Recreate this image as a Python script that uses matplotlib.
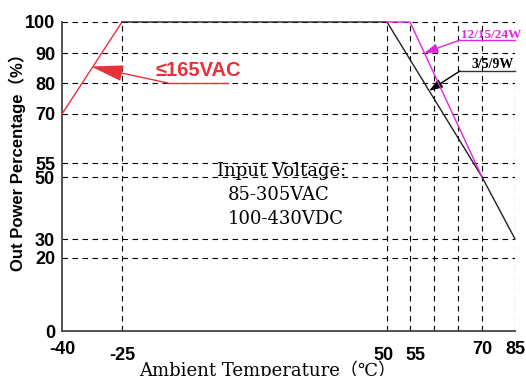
import numpy as np
import matplotlib
matplotlib.use('Agg')
import matplotlib.pyplot as plt
import matplotlib.transforms as mtransforms

# derating curves
red_t = [-40, -25]
red_p = [70, 100]
black_t = [-25, 50, 70, 85]
black_p = [100, 100, 50, 30]
mag_t = [50, 55, 70]
mag_p = [100, 100, 50]

x_ticks = [-40, -25, 50, 55, 70, 85]
x_grid = [-25, 50, 55, 60, 65, 70, 85]
y_ticks = [0, 20, 30, 50, 55, 70, 80, 90, 100]
y_grid = [20, 30, 50, 55, 70, 80, 90, 100]

# the original axes are not linear: knots -> pixel offsets
x_knots = [-40, -25, 50, 55, 60, 65, 70, 85]
x_px = [0, 60, 325, 348, 372, 396, 420, 453]
y_knots = [0, 20, 30, 50, 55, 70, 80, 90, 100]
y_px = [0, 73, 92, 154, 168, 217, 248, 278, 309]


def fx(v):
    return np.interp(v, x_knots, x_px)


def fx_inv(v):
    return np.interp(v, x_px, x_knots)


def fy(v):
    return np.interp(v, y_knots, y_px)


def fy_inv(v):
    return np.interp(v, y_px, y_knots)


sans = ['Liberation Sans', 'DejaVu Sans']
serif = ['DejaVu Serif', 'DejaVu Sans', 'Noto Sans CJK SC']

fig = plt.figure(figsize=(5.26, 3.76), dpi=100)
ax = fig.add_axes([62 / 526, 45 / 376, 453 / 526, 309 / 376])
ax.set_xscale('function', functions=(fx, fx_inv))
ax.set_yscale('function', functions=(fy, fy_inv))
ax.set_xlim(-40, 85)
ax.set_ylim(0, 100)

grid_kw = dict(color='black', lw=0.8, ls=(0, (5, 4)), zorder=1)
for t in x_grid:
    ax.axvline(t, **grid_kw)
for p in y_grid:
    ax.axhline(p, **grid_kw)

ax.plot(red_t, red_p, color='#e8313b', lw=1.0, clip_on=False, zorder=3)
ax.plot(black_t, black_p, color='#222222', lw=1.0, clip_on=False, zorder=3)
ax.plot(mag_t, mag_p, color='#e025e0', lw=1.0, clip_on=False, zorder=4)

for s in ['top', 'right']:
    ax.spines[s].set_visible(False)
for s in ['left', 'bottom']:
    ax.spines[s].set_color('#444444')
    ax.spines[s].set_linewidth(1.3)

ax.set_xticks(x_ticks)
ax.set_xticklabels([str(t) for t in x_ticks])
ax.set_yticks(y_ticks)
ax.set_yticklabels([str(p) for p in y_ticks])
ax.xaxis.set_minor_locator(plt.NullLocator())
ax.yaxis.set_minor_locator(plt.NullLocator())
ax.tick_params(length=0)
ax.tick_params(axis='y', pad=5)
for lab in ax.get_xticklabels() + ax.get_yticklabels():
    lab.set_family(sans)
    lab.set_fontweight('bold')
    lab.set_fontsize(13)
# staggered x labels, 50 and 55 pushed apart a little
shift = {50: -4, 55: 5}
for t, tick in zip(x_ticks, ax.xaxis.get_major_ticks()):
    tick.set_pad(11.5 if t in (-25, 50, 55) else 7.5)
    if t in shift:
        off = mtransforms.ScaledTranslation(shift[t] / 100, 0, fig.dpi_scale_trans)
        tick.label1.set_transform(tick.label1.get_transform() + off)

ax.set_ylabel('Out Power Percentage（%）', family=sans + ['Noto Sans CJK SC'],
              fontweight='bold', fontsize=12)
ax.yaxis.set_label_coords(-0.08, 0.56)
ax.set_xlabel('Ambient Temperature（℃）', family=serif, fontsize=13)
ax.xaxis.set_label_coords(0.453, -0.094)

# red annotation (<=165VAC)
red = '#e8313b'
ax.plot([-12, 5], [80, 80], color=red, lw=1.0)
ax.annotate('', xy=(-32.7, 85.5), xytext=(-12, 80),
            arrowprops=dict(arrowstyle='-|>,head_length=2.0,head_width=0.5',
                            color=red, lw=1.0, shrinkA=0, shrinkB=0))
ax.text(-15.5, 82.3, '≤165VAC', color=red, family=sans, fontweight='bold',
        fontsize=14.5, va='baseline')

# magenta annotation
mag = '#e025e0'
ax.plot([65.4, 85], [94.2, 94.2], color=mag, lw=1.0, clip_on=False)
ax.annotate('', xy=(58, 90), xytext=(65.4, 94.2),
            arrowprops=dict(arrowstyle='-|>,head_length=0.8,head_width=0.28',
                            color=mag, lw=1.0, shrinkA=0, shrinkB=0))
ax.text(65.6, 95, '12/15/24W', color=mag, family=['Liberation Serif'],
        fontweight='bold', fontsize=9.5, va='baseline')

# black annotation
ax.plot([65.4, 85], [84, 84], color='#333333', lw=1.0, clip_on=False)
ax.annotate('', xy=(59, 77.5), xytext=(65.4, 84),
            arrowprops=dict(arrowstyle='-|>,head_length=0.8,head_width=0.28',
                            color='black', lw=1.0, shrinkA=0, shrinkB=0))
ax.text(67.8, 85, '3/5/9W', color='black', family=['Liberation Serif'],
        fontweight='bold', fontsize=10, va='baseline')

ax.text(2, 50.3, 'Input Voltage:', family=serif, fontsize=13, va='baseline')
ax.text(5, 42.5, '85-305VAC', family=serif, fontsize=13, va='baseline')
ax.text(5, 34.7, '100-430VDC', family=serif, fontsize=13, va='baseline')

fig.savefig('out.png', dpi=100)
